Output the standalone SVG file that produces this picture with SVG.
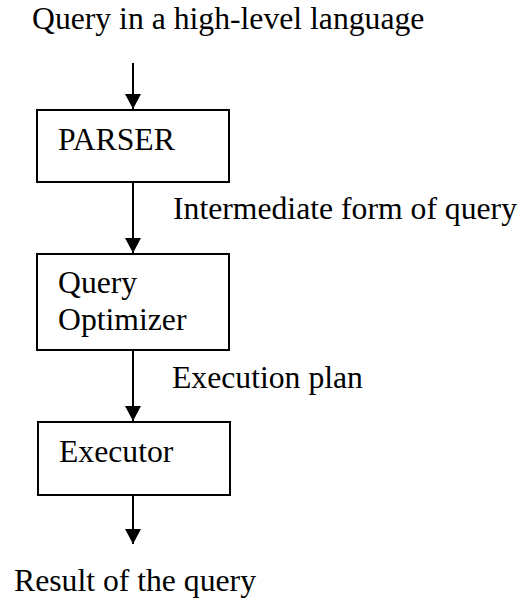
<svg xmlns="http://www.w3.org/2000/svg" width="524" height="600" viewBox="0 0 524 600">
  <defs>
    <marker id="arrow" markerUnits="userSpaceOnUse" markerWidth="16" markerHeight="16" viewBox="0 0 16 16" refX="15" refY="8" orient="auto">
      <path d="M0,0 L15,8 L0,16 Z" fill="#000"/>
    </marker>
    <style>
      .box { fill: #fff; stroke: #000; stroke-width: 2; }
      .label { font-family: "Liberation Serif", "Times New Roman", serif; font-size: 31.7px; fill: #000; }
      .edge { stroke: #000; stroke-width: 2; fill: none; marker-end: url(#arrow); }
    </style>
  </defs>

  <rect width="524" height="600" fill="#fff"/>

  <!-- flow connectors -->
  <g id="connectors">
    <line class="edge" x1="133" y1="63" x2="133" y2="109"/>
    <line class="edge" x1="133" y1="182" x2="133" y2="253"/>
    <line class="edge" x1="133" y1="350" x2="133" y2="421"/>
    <line class="edge" x1="133" y1="495" x2="133" y2="544"/>
  </g>

  <!-- edge labels -->
  <g id="labels">
    <text class="label" x="32" y="29">Query in a high-level language</text>
    <text class="label" x="173" y="219">Intermediate form of query</text>
    <text class="label" x="172" y="388">Execution plan</text>
    <text class="label" x="14" y="591">Result of the query</text>
  </g>

  <g id="parser">
    <rect class="box" x="37" y="110" width="192" height="72"/>
    <text class="label" x="58" y="150">PARSER</text>
  </g>

  <g id="optimizer">
    <rect class="box" x="37" y="254" width="192" height="96"/>
    <text class="label" x="58" y="293">Query</text>
    <text class="label" x="58" y="330">Optimizer</text>
  </g>

  <g id="executor">
    <rect class="box" x="38" y="422" width="192" height="73"/>
    <text class="label" x="59" y="462">Executor</text>
  </g>
</svg>
